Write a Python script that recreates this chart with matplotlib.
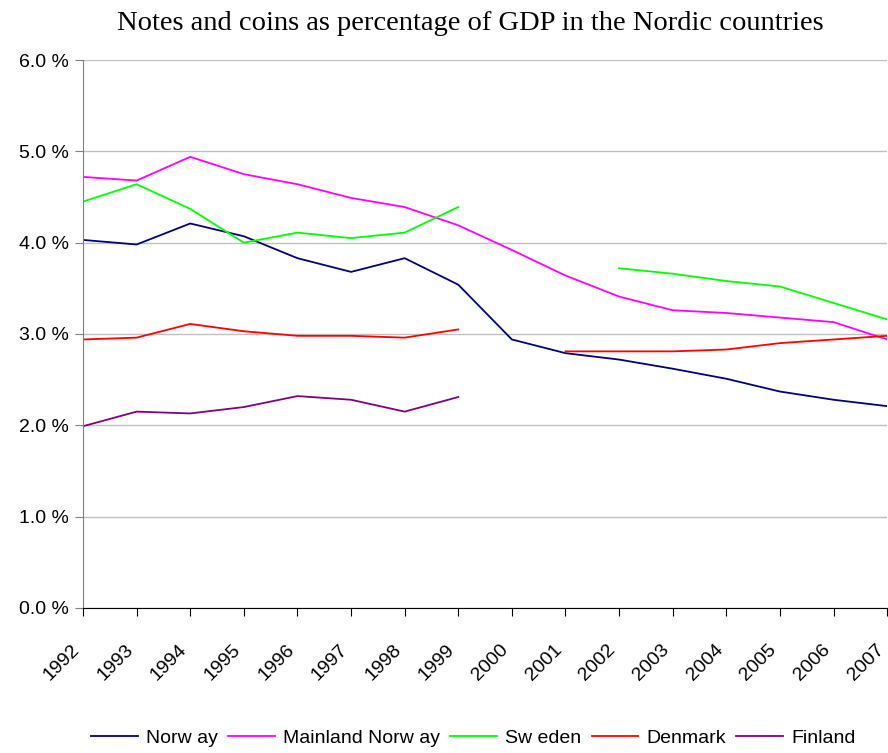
import numpy as np
import matplotlib.pyplot as plt
import matplotlib.transforms as mtransforms

# years on the category axis
years = list(range(1992, 2008))

# values in percent of GDP (nan = no data)
nan = np.nan
norway = [4.03, 3.98, 4.21, 4.07, 3.83, 3.68, 3.83, 3.54,
          2.94, 2.79, 2.72, 2.62, 2.51, 2.37, 2.28, 2.21]
mainland_norway = [4.72, 4.68, 4.94, 4.75, 4.64, 4.49, 4.39, 4.19,
                   3.92, 3.64, 3.41, 3.26, 3.23, 3.18, 3.13, 2.94]
sweden = [4.45, 4.64, 4.37, 4.00, 4.11, 4.05, 4.11, 4.39,
          nan, nan, 3.72, 3.66, 3.58, 3.52, 3.34, 3.16]
denmark = [2.94, 2.96, 3.11, 3.03, 2.98, 2.98, 2.96, 3.05,
           nan, 2.81, 2.81, 2.81, 2.83, 2.90, 2.94, 2.98]
finland = [1.99, 2.15, 2.13, 2.20, 2.32, 2.28, 2.15, 2.31,
           nan, nan, nan, nan, nan, nan, nan, nan]

series = [
    ('Norw ay', norway, '#000080'),
    ('Mainland Norw ay', mainland_norway, '#FF00FF'),
    ('Sw eden', sweden, '#00FF00'),
    ('Denmark', denmark, '#FF0000'),
    ('Finland', finland, '#800080'),
]

plt.rcParams['font.family'] = ['Liberation Sans', 'DejaVu Sans']

fig = plt.figure(figsize=(8.88, 7.53), dpi=100)
ax = fig.add_axes([0.0935, 0.1926, 0.9055, 0.7277])

x = np.arange(len(years))
for name, vals, col in series:
    ax.plot(x, vals, color=col, linewidth=1.3, label=name)

ax.set_xlim(0, len(years) - 1)
ax.set_ylim(0, 6)
ax.set_yticks(np.arange(0, 6.1, 1))
ax.set_yticklabels([f'{v:.1f} %' for v in np.arange(0, 6.1, 1)], fontsize=14)
ax.set_xticks(x)
ax.set_xticklabels([str(y) for y in years], rotation=45, ha='right',
                   va='top', fontsize=14)
offset = mtransforms.ScaledTranslation(-9 / 100, 0, fig.dpi_scale_trans)
for lab in ax.get_xticklabels():
    lab.set_transform(lab.get_transform() + offset)

ax.grid(axis='y', color='#c0c0c0', linewidth=1)
ax.set_axisbelow(True)
for s in ['top', 'right']:
    ax.spines[s].set_visible(False)
ax.spines['left'].set_color('#808080')
ax.spines['bottom'].set_color('#000000')
ax.tick_params(axis='y', direction='out', length=6, color='#808080', pad=4)
ax.tick_params(axis='x', direction='out', length=6, color='#000000', pad=18)

fig.suptitle('Notes and coins as percentage of GDP in the Nordic countries',
             x=0.530, y=0.985, fontsize=20.5, family='Liberation Serif')

fig.legend(loc='center', bbox_to_anchor=(0.533, 0.02), ncol=5, frameon=False,
           fontsize=14, handlelength=2.4, columnspacing=0.55, handletextpad=0.4)

plt.savefig('out.png', dpi=100)
